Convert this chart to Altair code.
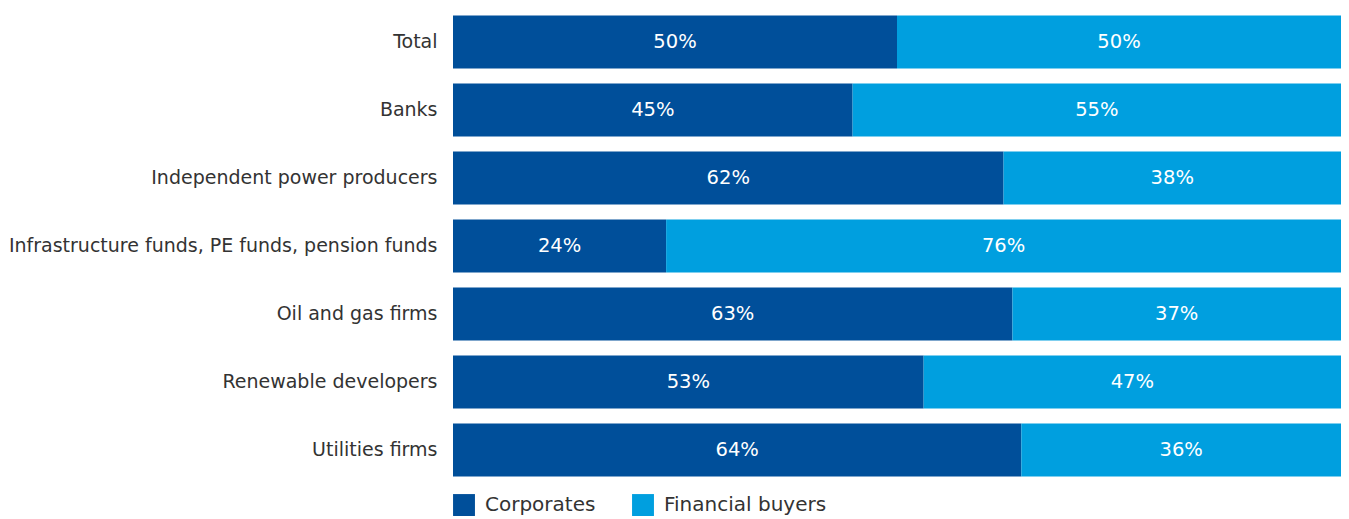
import altair as alt
import pandas as pd

categories = ["Total", "Banks", "Independent power producers",
              "Infrastructure funds, PE funds, pension funds",
              "Oil and gas firms", "Renewable developers", "Utilities firms"]
corporates = [50, 45, 62, 24, 63, 53, 64]
financial = [50, 55, 38, 76, 37, 47, 36]
series = ["Corporates", "Financial buyers"]
colors = ["#004f9a", "#009fdf"]

rows = []
for c, a, b in zip(categories, corporates, financial):
    rows.append({"category": c, "series": series[0], "value": a, "order": 0})
    rows.append({"category": c, "series": series[1], "value": b, "order": 1})
df = pd.DataFrame(rows)
df["label"] = df["value"].astype(str) + "%"

font = "DejaVu Sans"

y = alt.Y("category:N", sort=categories,
          scale=alt.Scale(paddingInner=0.22, paddingOuter=0.11),
          axis=alt.Axis(title=None, domain=False, ticks=False, labelFontSize=19,
                        labelColor="#333333", labelFont=font, labelPadding=16,
                        labelLimit=600, minExtent=445, maxExtent=445))

base = alt.Chart(df)

bars = base.mark_bar().encode(
    y=y,
    x=alt.X("value:Q", stack="normalize", axis=None, scale=alt.Scale(domain=[0, 1], nice=False)),
    color=alt.Color("series:N", sort=series,
                    scale=alt.Scale(domain=series, range=colors),
                    legend=alt.Legend(title=None, orient="bottom", direction="horizontal",
                                      symbolType="square", symbolSize=480,
                                      symbolStrokeWidth=0, labelFontSize=20,
                                      labelColor="#333333", labelFont=font,
                                      labelLimit=400,
                                      columnPadding=36, labelOffset=10, offset=10)),
    order=alt.Order("order:Q"),
)

text = base.transform_stack(
    stack="value", groupby=["category"], as_=["v0", "v1"],
    sort=[alt.SortField("order")], offset="normalize"
).transform_calculate(mid="(datum.v0 + datum.v1) / 2").mark_text(
    color="white", fontSize=19.5, font=font
).encode(
    y=alt.Y("category:N", sort=categories),
    x=alt.X("mid:Q"),
    text="label:N",
)

chart = (bars + text).properties(width=888, height=476, padding=0).configure_view(stroke=None)

chart.save("out.html", embed_options={"renderer": "svg", "actions": False})
